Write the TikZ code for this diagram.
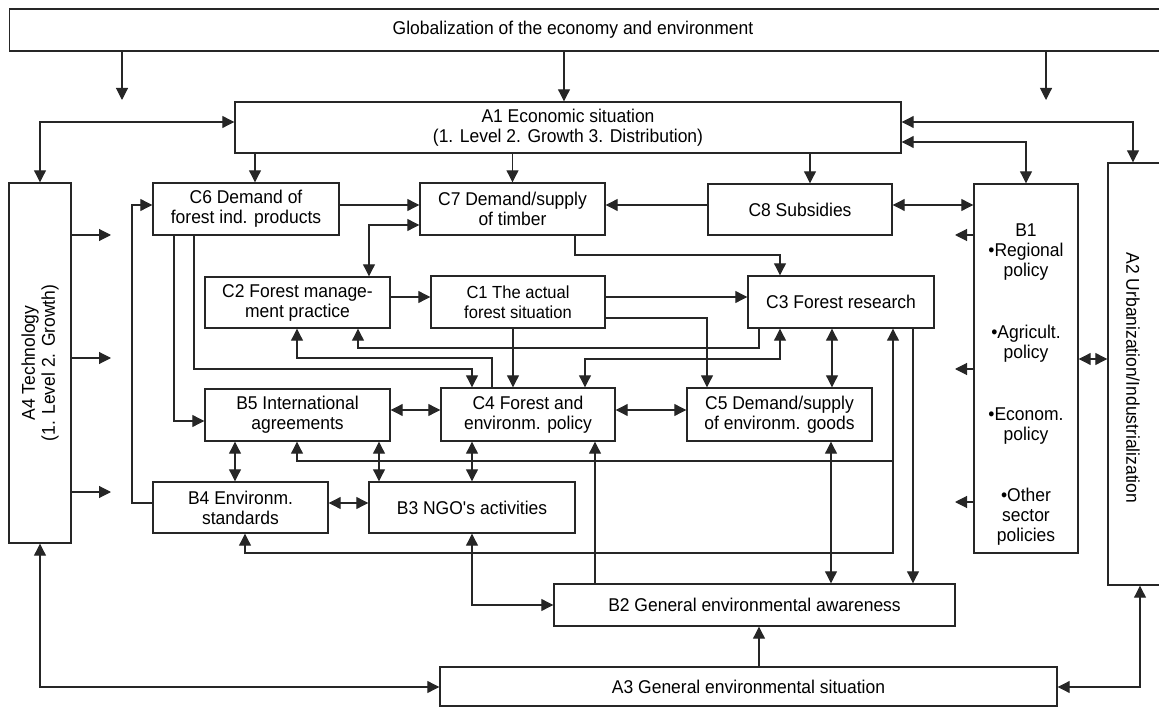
\documentclass[tikz,border=0pt]{standalone}
\usepackage{fontspec}
\setmainfont[FakeStretch=0.945]{Liberation Sans}
\usetikzlibrary{arrows.meta, calc, positioning}

\begin{document}
\begin{tikzpicture}[x=1pt, y=-1pt, line width=1.1pt, draw=black!85,
    >={Triangle[length=12pt,width=12pt]},
    font=\fontsize{18.5}{20}\selectfont,
    box/.style={draw, line width=1.4pt, inner sep=0pt, align=center}]
    \useasboundingbox (0,0) rectangle (1159,708);

    \node[box, minimum width=1170pt, minimum height=42pt, anchor=west] (glob) at (9,30) {};
    \node (globtext) at (573,30) {Globalization of the economy and environment};
    \node[box, minimum width=666pt, minimum height=51pt] (a1) at (568,127.5) {A1 Economic situation\\(1. Level 2. Growth 3. Distribution)};
    \node[box, minimum width=62pt, minimum height=360pt] (a4) at (40,363) {};
    \node[rotate=90, align=center] (a4text) at (a4) {A4 Technology\\(1. Level 2. Growth)};
    \node[box, minimum width=58pt, minimum height=422pt] (a2) at (1137,374) {};
    \node[rotate=-90] (a2text) at (1133,378) {A2 Urbanization/Industrialization};
    \node[box, minimum width=104pt, minimum height=369pt] (b1) at (1026,368.5) {};
    \node[align=center] (b1text) at (1026,385) {B1\\\textbullet Regional\\policy\\[42pt]\textbullet Agricult.\\policy\\[42pt]\textbullet Econom.\\policy\\[41pt]\textbullet Other\\sector\\policies};

    \node[box, minimum width=186pt, minimum height=52pt] (c6) at (246,209) {C6 Demand of\\forest ind. products};
    \node[box, minimum width=185pt, minimum height=52pt] (c7) at (512.5,209) {C7 Demand/supply\\of timber};
    \node[box, minimum width=184pt, minimum height=51pt] (c8) at (800,209.5) {C8 Subsidies};
    \node[box, minimum width=185pt, minimum height=51pt] (c2) at (297.5,302.5) {C2 Forest manage-\\ment practice};
    \node[box, minimum width=174pt, minimum height=52pt, font=\fontsize{17.5}{20}\selectfont] (c1) at (518,302) {C1 The actual\\forest situation};
    \node[box, minimum width=186pt, minimum height=52pt] (c3) at (841,302) {C3 Forest research};
    \node[box, minimum width=185pt, minimum height=52pt] (b5) at (297.5,415) {B5 International\\agreements};
    \node[box, minimum width=174pt, minimum height=53pt] (c4) at (528,414.5) {C4 Forest and\\environm. policy};
    \node[box, minimum width=185pt, minimum height=53pt] (c5) at (779.5,414.5) {C5 Demand/supply\\of environm. goods};
    \node[box, minimum width=175pt, minimum height=51pt] (b4) at (240.5,507.5) {B4 Environm.\\standards};
    \node[box, minimum width=206pt, minimum height=51pt] (b3) at (472,507.5) {B3 NGO\textquotesingle s activities};
    \node[box, minimum width=401pt, minimum height=42pt] (b2) at (754.5,605) {B2 General environmental awareness};
    \node[box, minimum width=617pt, minimum height=39pt] (a3) at (748.5,686.5) {A3 General environmental situation};

    \coordinate (g1) at (122,100);
    \coordinate (g3) at (1046,100);
    \draw[->] (g1 |- glob.south) -- (g1);
    \draw[->] (564,0 |- glob.south) -- (564,0 |- a1.north);
    \draw[->] (g3 |- glob.south) -- (g3);

    \draw[<->] (a1.west |- 0,122) -| (a4.north);
    \draw[<->] (a1.east |- 0,122) -| (a2.north -| 1133,0);
    \draw[<->] (a1.east |- 0,142) -| (b1.north);
    \draw[->] (a1.south -| 255,0) -- (c6.north -| 255,0);
    \draw[->] (c7.north |- a1.south) -- (c7.north);
    \draw[->] (a1.south -| 810,0) -- (c8.north -| 810,0);

    \foreach \y [count=\i] in {235,358,492} {
        \coordinate (t\i) at (111,\y);
        \draw[->] (a4.east |- t\i) -- (t\i);
    }
    \foreach \y [count=\i] in {235,369,502} {
        \coordinate (p\i) at (955,\y);
        \draw[->] (b1.west |- p\i) -- (p\i);
    }
    \draw[<->] (b1.east |- 0,359) -- (a2.west |- 0,359);

    \draw[->] (c6.east |- 0,205) -- (c7.west |- 0,205);
    \draw[->] (c8.west |- 0,205) -- (c7.east |- 0,205);
    \draw[<->] (c8.east |- 0,205) -- (b1.west |- 0,205);
    \draw[<->] (c7.west |- 0,225) -| (c2.north -| 369,0);
    \draw[->] (c7.south -| 575,0) -- (575,255) -| (c3.north -| 780,0);
    \draw[->] (c2.east |- 0,297) -- (c1.west |- 0,297);
    \draw[->] (c1.east |- 0,297) -- (c3.west |- 0,297);
    \draw[->] (c1.east |- 0,318) -| (c5.north -| 707,0);
    \draw[->] (c1.south -| 513,0) -- (c4.north -| 513,0);

    \draw[->] (c3.south -| 759,0) |- (358,348) -- (c2.south -| 358,0);
    \draw[->] (c4.north -| 492,0) |- (297,358) -- (c2.south -| 297,0);
    \draw[->] (c6.south -| 194,0) |- (472,369) -- (c4.north -| 472,0);
    \draw[<->] (c3.south -| 780,0) |- (585,359) -- (c4.north -| 585,0);
    \draw[<->] (c3.south -| 832,0) -- (c5.north -| 832,0);
    \draw[->] (c6.south -| 174,0) |- (b5.west |- 0,421);
    \draw[->] (b4.west |- 0,503) -- (132,503) |- (c6.west |- 0,205);

    \draw[<->] (b5.east |- 0,410) -- (c4.west |- 0,410);
    \draw[<->] (c4.east |- 0,410) -- (c5.west |- 0,410);
    \draw[<->] (b5.south -| 235,0) -- (b4.north -| 235,0);
    \draw[<->] (b5.south -| 379,0) -- (b3.north -| 379,0);
    \draw[<->] (c4.south -| 472,0) -- (b3.north);
    \draw[<->] (b4.east |- 0,503) -- (b3.west |- 0,503);

    \draw[<->] (b5.south -| 297,0) |- (893,461) -- (c3.south -| 893,0);
    \draw[->] (893,461) |- (245,553) -- (b4.south -| 245,0);
    \draw[->] (c3.south -| 913,0) -- (b2.north -| 913,0);
    \draw[<->] (c5.south -| 831,0) -- (b2.north -| 831,0);
    \draw[->] (b2.north -| 595,0) -- (c4.south -| 595,0);
    \draw[<->] (b3.south) |- (b2.west |- 0,605);

    \draw[->] (a3.north -| 759,0) -- (b2.south -| 759,0);
    \draw[<->] (a3.west |- 0,687) -| (a4.south);
    \draw[<->] (a3.east |- 0,687) -| (a2.south -| 1140,0);
\end{tikzpicture}
\end{document}
